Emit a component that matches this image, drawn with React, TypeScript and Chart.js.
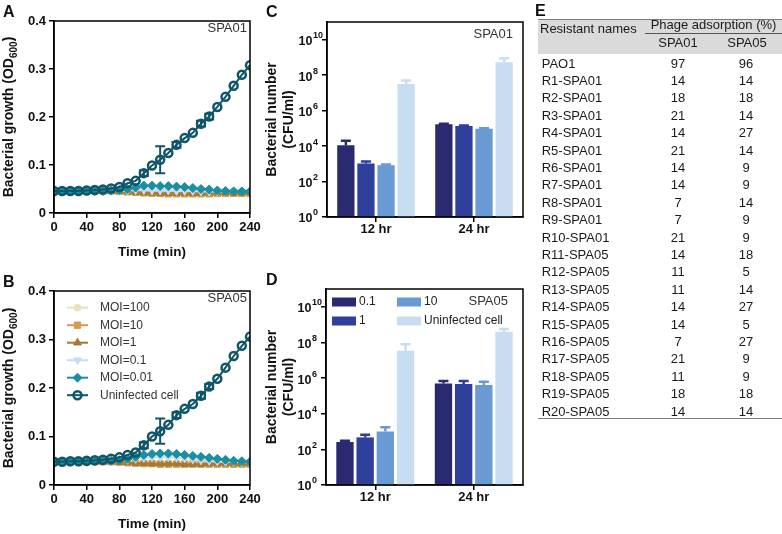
import React, { useEffect, useRef } from 'react';
import { Chart, registerables } from 'chart.js';
Chart.register(...registerables);

const FONT = '"Liberation Sans", Arial, Helvetica, sans-serif';
const INK = '#111111';

// ---------- Data: panels A & B (OD600 growth curves) ----------
const timeMin = [0, 10, 20, 30, 40, 50, 60, 70, 80, 90, 100, 110, 120, 130, 140, 150, 160, 170, 180, 190, 200, 210, 220, 230, 240];
const timeTicks = [0, 40, 80, 120, 160, 200, 240];
const odTicks = [0, 0.1, 0.2, 0.3, 0.4];
const seriesNames = ['MOI=100', 'MOI=10', 'MOI=1', 'MOI=0.1', 'MOI=0.01', 'Uninfected cell'];

const spa01Moi100 = [0.046, 0.046, 0.046, 0.046, 0.046, 0.046, 0.046, 0.046, 0.046, 0.045, 0.045, 0.044, 0.044, 0.043, 0.043, 0.043, 0.043, 0.043, 0.043, 0.043, 0.043, 0.043, 0.043, 0.043, 0.044];
const spa01Moi10 = [0.046, 0.046, 0.046, 0.046, 0.046, 0.046, 0.046, 0.046, 0.045, 0.044, 0.043, 0.042, 0.041, 0.041, 0.040, 0.040, 0.040, 0.040, 0.040, 0.040, 0.041, 0.041, 0.041, 0.041, 0.041];
const spa01Moi1 = [0.046, 0.046, 0.046, 0.046, 0.046, 0.046, 0.046, 0.046, 0.045, 0.044, 0.043, 0.042, 0.042, 0.041, 0.041, 0.041, 0.041, 0.041, 0.041, 0.042, 0.042, 0.042, 0.042, 0.042, 0.043];
const spa01Moi01 = [0.046, 0.046, 0.046, 0.046, 0.046, 0.046, 0.046, 0.046, 0.046, 0.047, 0.048, 0.048, 0.047, 0.047, 0.047, 0.046, 0.046, 0.046, 0.045, 0.045, 0.045, 0.045, 0.045, 0.045, 0.045];
const spa01Moi001 = [0.046, 0.046, 0.046, 0.046, 0.046, 0.046, 0.046, 0.047, 0.048, 0.050, 0.053, 0.057, 0.057, 0.056, 0.056, 0.055, 0.054, 0.052, 0.050, 0.049, 0.047, 0.046, 0.045, 0.045, 0.045];
const spa01Uninfected = [0.046, 0.046, 0.046, 0.046, 0.047, 0.048, 0.049, 0.051, 0.054, 0.062, 0.067, 0.083, 0.099, 0.111, 0.125, 0.142, 0.156, 0.167, 0.186, 0.201, 0.221, 0.242, 0.265, 0.288, 0.308];
const spa01UninfectedErr = [0, 0, 0, 0, 0, 0, 0, 0, 0, 0, 0, 0.006, 0, 0.028, 0, 0.006, 0, 0, 0.006, 0.006, 0, 0, 0, 0, 0];

const spa05Moi100 = [0.048, 0.048, 0.048, 0.048, 0.048, 0.048, 0.048, 0.048, 0.048, 0.048, 0.047, 0.047, 0.046, 0.046, 0.046, 0.046, 0.046, 0.046, 0.046, 0.046, 0.046, 0.046, 0.046, 0.046, 0.046];
const spa05Moi10 = [0.048, 0.048, 0.048, 0.048, 0.048, 0.048, 0.048, 0.048, 0.047, 0.046, 0.045, 0.044, 0.044, 0.043, 0.043, 0.043, 0.043, 0.043, 0.043, 0.043, 0.043, 0.043, 0.043, 0.043, 0.043];
const spa05Moi1 = [0.048, 0.048, 0.048, 0.048, 0.048, 0.048, 0.048, 0.048, 0.047, 0.046, 0.045, 0.045, 0.044, 0.044, 0.044, 0.044, 0.043, 0.043, 0.043, 0.044, 0.044, 0.044, 0.044, 0.044, 0.044];
const spa05Moi01 = [0.048, 0.048, 0.048, 0.048, 0.048, 0.049, 0.049, 0.050, 0.051, 0.052, 0.054, 0.056, 0.057, 0.057, 0.057, 0.056, 0.055, 0.053, 0.051, 0.050, 0.049, 0.048, 0.048, 0.047, 0.047];
const spa05Moi001 = [0.048, 0.048, 0.048, 0.048, 0.048, 0.049, 0.050, 0.050, 0.051, 0.054, 0.058, 0.062, 0.064, 0.065, 0.065, 0.064, 0.062, 0.060, 0.058, 0.056, 0.054, 0.052, 0.050, 0.049, 0.048];
const spa05Uninfected = [0.048, 0.048, 0.049, 0.049, 0.050, 0.051, 0.052, 0.054, 0.057, 0.062, 0.067, 0.082, 0.100, 0.111, 0.124, 0.144, 0.157, 0.167, 0.184, 0.203, 0.219, 0.242, 0.266, 0.287, 0.306];
const spa05UninfectedErr = [0, 0, 0, 0, 0, 0, 0, 0, 0, 0, 0, 0.006, 0, 0.026, 0, 0.006, 0, 0, 0.006, 0.005, 0, 0, 0, 0, 0];

// ---------- Data: panels C & D (CFU/ml) ----------
const timepoints = ['12 hr', '24 hr'];
const barNames = ['0.1', '1', '10', 'Uninfected cell'];
const cfuTicks = [1, 1e2, 1e4, 1e6, 1e8, 1e10];

const spa01Cfu01 = [1.1e4, 1.7e5];
const spa01Cfu1 = [1.05e3, 1.35e5];
const spa01Cfu10 = [8.3e2, 9.6e4];
const spa01CfuUninf = [3.2e7, 5.3e8];
const spa01Cfu01Err = [0.9e4, 0.15e5];
const spa01Cfu1Err = [0.3e3, 0.1e5];
const spa01Cfu10Err = [0.8e2, 0.5e4];
const spa01CfuUninfErr = [1.8e7, 3.7e8];

const spa05Cfu01 = [2.6e2, 4.9e5];
const spa05Cfu1 = [4.7e2, 4.6e5];
const spa05Cfu10 = [1.02e3, 4.1e5];
const spa05CfuUninf = [3.4e7, 4.0e8];
const spa05Cfu01Err = [0.4e2, 2.0e5];
const spa05Cfu1Err = [1.9e2, 2.3e5];
const spa05Cfu10Err = [0.7e3, 2.2e5];
const spa05CfuUninfErr = [4.6e7, 1.7e8];

// ---------- Data: panel E (table) ----------
const resistantNames = ['PAO1', 'R1-SPA01', 'R2-SPA01', 'R3-SPA01', 'R4-SPA01', 'R5-SPA01', 'R6-SPA01', 'R7-SPA01', 'R8-SPA01', 'R9-SPA01', 'R10-SPA01', 'R11-SPA05', 'R12-SPA05', 'R13-SPA05', 'R14-SPA05', 'R15-SPA05', 'R16-SPA05', 'R17-SPA05', 'R18-SPA05', 'R19-SPA05', 'R20-SPA05'];
const adsorptionSpa01 = [97, 14, 18, 21, 14, 21, 14, 14, 7, 7, 21, 14, 11, 11, 14, 14, 7, 21, 11, 18, 14];
const adsorptionSpa05 = [96, 14, 18, 14, 27, 14, 9, 9, 14, 9, 9, 18, 5, 14, 27, 5, 27, 9, 9, 18, 14];

// ---------- Styles ----------
const lineColors = ['#ebe1c0', '#d49b50', '#a57a33', '#c6dcf1', '#1a8fa1', '#0f5669'];
const pointStyles = ['circle', 'rect', 'triangle', 'triangle', 'rectRot', 'circle'];
const pointRots = [0, 0, 0, 180, 0, 0];
const pointRadii = [3.5, 4.5, 4.5, 4.5, 4.5, 4];
const barColors = ['#2a2a70', '#2f3f9c', '#6a9ad4', '#c6ddf2'];

function drawMarker(ctx: CanvasRenderingContext2D, style: string, x: number, y: number, r: number, rot: number, fill: string, stroke: string, lw: number) {
  ctx.save();
  ctx.translate(x, y);
  ctx.rotate((rot * Math.PI) / 180);
  ctx.beginPath();
  if (style === 'circle') ctx.arc(0, 0, r, 0, Math.PI * 2);
  else if (style === 'rect') {
    const s = r * Math.SQRT1_2;
    ctx.rect(-s, -s, 2 * s, 2 * s);
  } else if (style === 'rectRot') {
    ctx.moveTo(0, -r); ctx.lineTo(r, 0); ctx.lineTo(0, r); ctx.lineTo(-r, 0); ctx.closePath();
  } else {
    let a = 0;
    ctx.moveTo(Math.sin(a) * r, -Math.cos(a) * r);
    a += (2 * Math.PI) / 3;
    ctx.lineTo(Math.sin(a) * r, -Math.cos(a) * r);
    a += (2 * Math.PI) / 3;
    ctx.lineTo(Math.sin(a) * r, -Math.cos(a) * r);
    ctx.closePath();
  }
  ctx.fillStyle = fill;
  ctx.fill();
  if (lw > 0) { ctx.lineWidth = lw; ctx.strokeStyle = stroke; ctx.stroke(); }
  ctx.restore();
}

function drawRotated(ctx: CanvasRenderingContext2D, parts: { t: string; sub?: boolean }[], x: number, cy: number, size: number) {
  ctx.save();
  ctx.translate(x, cy);
  ctx.rotate(-Math.PI / 2);
  ctx.fillStyle = INK;
  ctx.textBaseline = 'alphabetic';
  ctx.textAlign = 'left';
  const main = `bold ${size}px ${FONT}`;
  const sub = `bold ${Math.round(size * 0.68)}px ${FONT}`;
  let total = 0;
  const ws = parts.map((p) => { ctx.font = p.sub ? sub : main; const w = ctx.measureText(p.t).width; total += w; return w; });
  let cx = -total / 2;
  parts.forEach((p, i) => {
    ctx.font = p.sub ? sub : main;
    ctx.fillText(p.t, cx, p.sub ? size * 0.3 : 0);
    cx += ws[i];
  });
  ctx.restore();
}

const axisCommon = {
  grid: { drawOnChartArea: false, color: '#000', lineWidth: 1.5, tickLength: 5, tickWidth: 1.5 },
  border: { color: '#000', width: 1.5 },
};

type Geo = { w: number; h: number; L: number; R: number; T: number; B: number };

function lineConfig(letter: string, tag: string, series: number[][], err: number[], showLegend: boolean, g: Geo): any {
  const datasets = series.map((vals, i) => ({
    label: seriesNames[i],
    data: timeMin.map((t, j) => ({ x: t, y: vals[j] })),
    borderColor: lineColors[i],
    borderWidth: 2,
    pointStyle: pointStyles[i],
    pointRotation: pointRots[i],
    pointRadius: pointRadii[i],
    pointBackgroundColor: i === 5 ? 'rgba(0,0,0,0)' : lineColors[i],
    pointBorderColor: lineColors[i],
    pointBorderWidth: i === 5 ? 2.5 : 1,
    order: 5 - i,
    errorBars: i === 5 ? err : null,
    tension: 0,
  }));
  const decor = {
    id: 'lineDecor',
    afterDatasetsDraw(chart: any) {
      const ctx = chart.ctx;
      const ys = chart.scales.y;
      chart.data.datasets.forEach((ds: any, di: number) => {
        if (!ds.errorBars) return;
        const meta = chart.getDatasetMeta(di);
        ds.errorBars.forEach((e: number, j: number) => {
          if (!e) return;
          const x = meta.data[j].x;
          const v = ds.data[j].y;
          const y1 = ys.getPixelForValue(v + e);
          const y2 = ys.getPixelForValue(v - e);
          ctx.save();
          ctx.strokeStyle = ds.borderColor;
          ctx.lineWidth = 2;
          ctx.beginPath();
          ctx.moveTo(x, y1); ctx.lineTo(x, y2);
          ctx.moveTo(x - 5, y1); ctx.lineTo(x + 5, y1);
          ctx.moveTo(x - 5, y2); ctx.lineTo(x + 5, y2);
          ctx.stroke();
          ctx.restore();
        });
      });
    },
    afterDraw(chart: any) {
      const ctx = chart.ctx;
      const a = chart.chartArea;
      ctx.save();
      ctx.strokeStyle = '#000';
      ctx.lineWidth = 1.5;
      ctx.strokeRect(a.left, a.top, a.right - a.left, a.bottom - a.top);
      // tag
      ctx.font = `13px ${FONT}`;
      ctx.fillStyle = '#333';
      ctx.textAlign = 'right';
      ctx.textBaseline = 'middle';
      ctx.fillText(tag, a.right - 3, a.top + 7);
      // panel letter
      ctx.font = `bold 16px ${FONT}`;
      ctx.fillStyle = INK;
      ctx.textAlign = 'left';
      ctx.textBaseline = 'alphabetic';
      ctx.fillText(letter, 3, a.top - 4);
      // x title
      ctx.font = `bold 13.5px ${FONT}`;
      ctx.textAlign = 'center';
      ctx.textBaseline = 'middle';
      ctx.fillText('Time (min)', (a.left + a.right) / 2, a.bottom + 39);
      ctx.restore();
      drawRotated(ctx, [{ t: 'Bacterial growth (OD' }, { t: '600', sub: true }, { t: ')' }], 13, (a.top + a.bottom) / 2, 14);
      if (showLegend) {
        ctx.save();
        ctx.font = `12px ${FONT}`;
        ctx.textAlign = 'left';
        ctx.textBaseline = 'middle';
        series.forEach((_, i) => {
          const y = a.top + 16.7 + i * 17.5;
          ctx.strokeStyle = lineColors[i];
          ctx.lineWidth = 2;
          ctx.beginPath();
          ctx.moveTo(a.left + 13, y); ctx.lineTo(a.left + 34, y);
          ctx.stroke();
          drawMarker(ctx, pointStyles[i], a.left + 23.5, y, pointRadii[i], pointRots[i], i === 5 ? 'rgba(0,0,0,0)' : lineColors[i], lineColors[i], i === 5 ? 2.5 : 1);
          ctx.fillStyle = '#333';
          ctx.fillText(seriesNames[i], a.left + 46, y);
        });
        ctx.restore();
      }
    },
  };
  return {
    type: 'line',
    data: { datasets },
    options: {
      responsive: false,
      animation: false,
      devicePixelRatio: 1,
      layout: { padding: { top: g.T, right: g.w - g.R, left: 0, bottom: 0 } },
      plugins: { legend: { display: false }, tooltip: { enabled: false } },
      scales: {
        x: {
          ...axisCommon,
          type: 'linear',
          min: 0,
          max: 240,
          afterBuildTicks: (s: any) => { s.ticks = timeTicks.map((v) => ({ value: v })); },
          afterFit: (s: any) => { s.height = g.h - g.B; },
          ticks: { font: { family: FONT, size: 13, weight: 'bold' }, color: INK, padding: 2, maxRotation: 0, autoSkip: false },
        },
        y: {
          ...axisCommon,
          type: 'linear',
          min: 0,
          max: 0.4,
          afterBuildTicks: (s: any) => { s.ticks = odTicks.map((v) => ({ value: v })); },
          afterFit: (s: any) => { s.width = g.L; },
          ticks: { font: { family: FONT, size: 13, weight: 'bold' }, color: INK, padding: 3, callback: (v: number) => (v === 0 ? '0' : v.toFixed(1)) },
        },
      },
    },
    plugins: [decor],
  };
}

function barConfig(letter: string, tag: string, vals: number[][], errs: number[][], showLegend: boolean, g: Geo, tagRightInset: number): any {
  const datasets = vals.map((v, i) => ({
    label: barNames[i],
    data: v,
    backgroundColor: barColors[i],
    borderWidth: 0,
    categoryPercentage: 0.82,
    barPercentage: 0.86,
    errorBars: errs[i],
  }));
  const decor = {
    id: 'barDecor',
    afterDatasetsDraw(chart: any) {
      const ctx = chart.ctx;
      const ys = chart.scales.y;
      chart.data.datasets.forEach((ds: any, di: number) => {
        const meta = chart.getDatasetMeta(di);
        ds.errorBars.forEach((e: number, j: number) => {
          const x = meta.data[j].x;
          const v = ds.data[j];
          const y0 = ys.getPixelForValue(v);
          const y1 = ys.getPixelForValue(v + e);
          ctx.save();
          ctx.strokeStyle = ds.backgroundColor;
          ctx.lineWidth = 2.5;
          ctx.beginPath();
          ctx.moveTo(x, y0); ctx.lineTo(x, y1);
          ctx.moveTo(x - 5, y1); ctx.lineTo(x + 5, y1);
          ctx.stroke();
          ctx.restore();
        });
      });
    },
    afterDraw(chart: any) {
      const ctx = chart.ctx;
      const a = chart.chartArea;
      const ys = chart.scales.y;
      ctx.save();
      ctx.strokeStyle = '#000';
      ctx.lineWidth = 1.5;
      ctx.strokeRect(a.left, a.top, a.right - a.left, a.bottom - a.top);
      // y tick labels 10^n
      ctx.fillStyle = INK;
      cfuTicks.forEach((v) => {
        const y = ys.getPixelForValue(v);
        const ex = Math.round(Math.log10(v));
        ctx.font = `bold 12.5px ${FONT}`;
        ctx.textAlign = 'right';
        ctx.textBaseline = 'middle';
        ctx.fillText('10', a.left - 14.5, y + 2);
        ctx.font = `bold 9px ${FONT}`;
        ctx.textAlign = 'left';
        ctx.fillText(String(ex), a.left - 14, y - 4);
      });
      // tag
      ctx.font = `13px ${FONT}`;
      ctx.fillStyle = '#333';
      ctx.textAlign = 'right';
      ctx.textBaseline = 'middle';
      ctx.fillText(tag, a.right - tagRightInset, a.top + 12);
      // letter
      ctx.font = `bold 16px ${FONT}`;
      ctx.fillStyle = INK;
      ctx.textAlign = 'left';
      ctx.textBaseline = 'alphabetic';
      ctx.fillText(letter, 10, letter === 'C' ? 17 : 23);
      if (showLegend) {
        ctx.font = `12px ${FONT}`;
        ctx.textBaseline = 'middle';
        barNames.forEach((n, i) => {
          const col = i < 2 ? 0 : 1;
          const row = i % 2;
          const bx = a.left + 6 + col * 65;
          const by = a.top + 13 + row * 19;
          ctx.fillStyle = barColors[i];
          ctx.fillRect(bx, by - 4.5, 24, 9);
          ctx.fillStyle = '#222';
          ctx.fillText(n, bx + 27, by);
        });
      }
      ctx.restore();
      const cy = (a.top + a.bottom) / 2;
      drawRotated(ctx, [{ t: 'Bacterial number' }], 20, cy, 14);
      drawRotated(ctx, [{ t: '(CFU/ml)' }], 37, cy, 14);
    },
  };
  return {
    type: 'bar',
    data: { labels: timepoints, datasets },
    options: {
      responsive: false,
      animation: false,
      devicePixelRatio: 1,
      layout: { padding: { top: g.T, right: g.w - g.R, left: 0, bottom: 0 } },
      plugins: { legend: { display: false }, tooltip: { enabled: false } },
      scales: {
        x: {
          ...axisCommon,
          grid: { ...axisCommon.grid, offset: false },
          type: 'category',
          afterFit: (s: any) => { s.height = g.h - g.B; },
          ticks: { font: { family: FONT, size: 13, weight: 'bold' }, color: INK, padding: 0, maxRotation: 0 },
        },
        y: {
          ...axisCommon,
          type: 'logarithmic',
          min: 1,
          max: 1e11,
          afterBuildTicks: (s: any) => { s.ticks = cfuTicks.map((v) => ({ value: v })); },
          afterFit: (s: any) => { s.width = g.L; },
          ticks: { display: false },
        },
      },
    },
    plugins: [decor],
  };
}

function ChartBox({ left, top, g, make }: { left: number; top: number; g: Geo; make: () => any }) {
  const ref = useRef<HTMLCanvasElement>(null);
  useEffect(() => {
    const chart = new Chart(ref.current as HTMLCanvasElement, make());
    return () => chart.destroy();
  }, []);
  return (
    <div style={{ position: 'absolute', left, top, width: g.w, height: g.h }}>
      <canvas ref={ref} width={g.w} height={g.h} style={{ width: g.w, height: g.h, display: 'block' }} />
    </div>
  );
}

const geoA: Geo = { w: 272, h: 262, L: 54, R: 250, T: 21, B: 213 };
const geoB: Geo = { w: 272, h: 272, L: 54, R: 250, T: 29, B: 223 };
const geoC: Geo = { w: 280, h: 262, L: 71, R: 267, T: 22, B: 217 };
const geoD: Geo = { w: 280, h: 272, L: 70, R: 267, T: 27, B: 223 };

function TableE() {
  const rowH = 17.4;
  const txt = { position: 'absolute' as const, fontSize: 13, lineHeight: `${rowH}px`, whiteSpace: 'nowrap' as const };
  return (
    <div style={{ position: 'absolute', left: 538, top: 0, width: 244, height: 534, fontFamily: FONT, color: '#1a1a1a' }}>
      <div style={{ position: 'absolute', left: -3, top: 3, fontWeight: 'bold', fontSize: 16, lineHeight: '16px', color: INK }}>E</div>
      <div style={{ position: 'absolute', left: 0, top: 19, width: 244, height: 34.5, background: '#dadada', borderTop: '1.5px solid #7a7a7a', boxSizing: 'border-box' }} />
      <div style={{ ...txt, left: 2, top: 19.5 }}>Resistant names</div>
      <div style={{ ...txt, left: 107, width: 137, textAlign: 'center', top: 15.5 }}>Phage adsorption (%)</div>
      <div style={{ position: 'absolute', left: 107, top: 33, width: 137, height: 1, background: '#555' }} />
      <div style={{ ...txt, left: 110, width: 60, textAlign: 'center', top: 33.5 }}>SPA01</div>
      <div style={{ ...txt, left: 179, width: 60, textAlign: 'center', top: 33.5 }}>SPA05</div>
      {resistantNames.map((n, i) => (
        <React.Fragment key={n}>
          <div style={{ ...txt, left: 3.7, top: 54.5 + i * rowH }}>{n}</div>
          <div style={{ ...txt, left: 110, width: 60, textAlign: 'center', top: 54.5 + i * rowH }}>{adsorptionSpa01[i]}</div>
          <div style={{ ...txt, left: 178, width: 60, textAlign: 'center', top: 54.5 + i * rowH }}>{adsorptionSpa05[i]}</div>
        </React.Fragment>
      ))}
      <div style={{ position: 'absolute', left: 0, top: 417.5, width: 244, height: 1.5, background: '#7a7a7a' }} />
    </div>
  );
}

export default function App() {
  return (
    <div style={{ position: 'fixed', left: 0, top: 0, width: 782, height: 534, background: '#fff', overflow: 'hidden' }}>
      <ChartBox left={0} top={0} g={geoA} make={() => lineConfig('A', 'SPA01', [spa01Moi100, spa01Moi10, spa01Moi1, spa01Moi01, spa01Moi001, spa01Uninfected], spa01UninfectedErr, false, geoA)} />
      <ChartBox left={0} top={262} g={geoB} make={() => lineConfig('B', 'SPA05', [spa05Moi100, spa05Moi10, spa05Moi1, spa05Moi01, spa05Moi001, spa05Uninfected], spa05UninfectedErr, true, geoB)} />
      <ChartBox left={256} top={0} g={geoC} make={() => barConfig('C', 'SPA01', [spa01Cfu01, spa01Cfu1, spa01Cfu10, spa01CfuUninf], [spa01Cfu01Err, spa01Cfu1Err, spa01Cfu10Err, spa01CfuUninfErr], false, geoC, 10)} />
      <ChartBox left={256} top={262} g={geoD} make={() => barConfig('D', 'SPA05', [spa05Cfu01, spa05Cfu1, spa05Cfu10, spa05CfuUninf], [spa05Cfu01Err, spa05Cfu1Err, spa05Cfu10Err, spa05CfuUninfErr], true, geoD, 15)} />
      <TableE />
    </div>
  );
}
